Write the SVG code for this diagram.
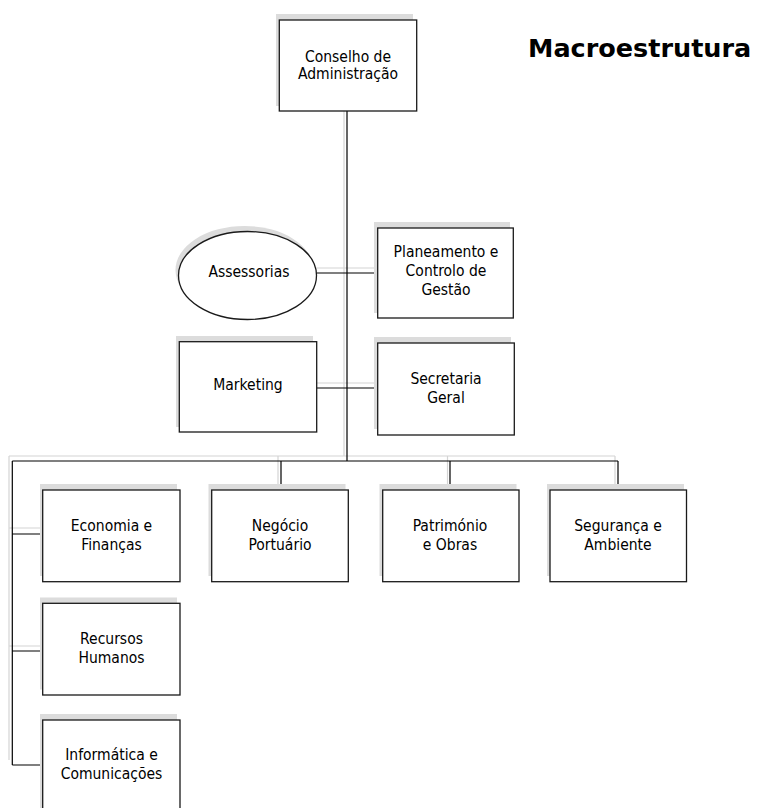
<svg xmlns="http://www.w3.org/2000/svg" width="758" height="808" viewBox="0 0 758 808">
<style>
.sh{fill:#dcdcdc;stroke:none}
.bx{fill:#fff;stroke:#1a1a1a;stroke-width:1.3}
.ln{stroke:#000;stroke-width:1.2;fill:none}
.sl{stroke:#d4d4d4;stroke-width:1.2;fill:none}
.t{font-family:"DejaVu Sans Condensed","DejaVu Sans",sans-serif;font-size:15.5px;fill:#000;text-anchor:middle}
.title{font-family:"DejaVu Sans","Verdana",sans-serif;font-weight:bold;font-size:25.5px;fill:#000}
</style>
<rect width="758" height="808" fill="#fff"/>
<g id="connectors">
<path class="sl" d="M344 107V456M9 456H615M278 456V484M447.5 456V484M615 456V484M9 456V760M9 528H40M9 646H40M314 268H374M314 383H374"/>
<path class="ln" d="M347 111V461M12.3 461H618M281 461V490M450 461V490M618 461V490M12.3 461V765M12.3 534H42.7M12.3 651H42.7M12.3 765H42.7M316.7 273H377.7M316.7 388H377.7"/>
</g>
<g id="conselho">
<rect class="sh" x="276" y="14" width="137" height="92"/>
<rect class="bx" x="279.3" y="20" width="137.4" height="91"/>
<text class="t" x="348" y="61.5">Conselho de</text>
<text class="t" x="348" y="79">Administração</text>
</g>
<g id="assessorias">
<ellipse class="sh" cx="244.5" cy="270" rx="69" ry="44"/>
<ellipse class="bx" cx="247.5" cy="275.5" rx="69" ry="44"/>
<text class="t" x="249" y="277">Assessorias</text>
</g>
<g id="planeamento">
<rect class="sh" x="374" y="222" width="136" height="91"/>
<rect class="bx" x="377.7" y="228" width="135.6" height="90"/>
<text class="t" x="446" y="257">Planeamento e</text>
<text class="t" x="446" y="276">Controlo de</text>
<text class="t" x="446" y="295">Gestão</text>
</g>
<g id="marketing">
<rect class="sh" x="176" y="336" width="137" height="91"/>
<rect class="bx" x="179.3" y="341.7" width="137.4" height="90.3"/>
<text class="t" x="248" y="390">Marketing</text>
</g>
<g id="secretaria">
<rect class="sh" x="374" y="337" width="137" height="92"/>
<rect class="bx" x="377.7" y="343" width="136.6" height="92"/>
<text class="t" x="446" y="384">Secretaria</text>
<text class="t" x="446" y="402.5">Geral</text>
</g>
<g id="economia">
<rect class="sh" x="40" y="484" width="137" height="92"/>
<rect class="bx" x="42.7" y="490" width="137.3" height="91.7"/>
<text class="t" x="111.5" y="531">Economia e</text>
<text class="t" x="111.5" y="550">Finanças</text>
</g>
<g id="negocio">
<rect class="sh" x="208.5" y="484" width="137" height="92"/>
<rect class="bx" x="211.7" y="490" width="136.6" height="91.7"/>
<text class="t" x="280" y="531">Negócio</text>
<text class="t" x="280" y="550">Portuário</text>
</g>
<g id="patrimonio">
<rect class="sh" x="379.5" y="484" width="137" height="92"/>
<rect class="bx" x="382.7" y="490" width="136.3" height="91.7"/>
<text class="t" x="450" y="531">Património</text>
<text class="t" x="450" y="550">e Obras</text>
</g>
<g id="seguranca">
<rect class="sh" x="547" y="484" width="137" height="92"/>
<rect class="bx" x="550" y="490" width="136.5" height="91.7"/>
<text class="t" x="618" y="531">Segurança e</text>
<text class="t" x="618" y="550">Ambiente</text>
</g>
<g id="recursos">
<rect class="sh" x="40" y="597.5" width="137" height="92"/>
<rect class="bx" x="42.7" y="603.3" width="137.3" height="91.7"/>
<text class="t" x="111.5" y="643.5">Recursos</text>
<text class="t" x="111.5" y="662.5">Humanos</text>
</g>
<g id="informatica">
<rect class="sh" x="40" y="714" width="137" height="100"/>
<rect class="bx" x="42.7" y="720" width="137.3" height="100"/>
<text class="t" x="111.5" y="760">Informática e</text>
<text class="t" x="111.5" y="778.5">Comunicações</text>
</g>
<g id="title">
<text class="title" x="528" y="57.3">Macroestrutura</text>
</g>
</svg>
